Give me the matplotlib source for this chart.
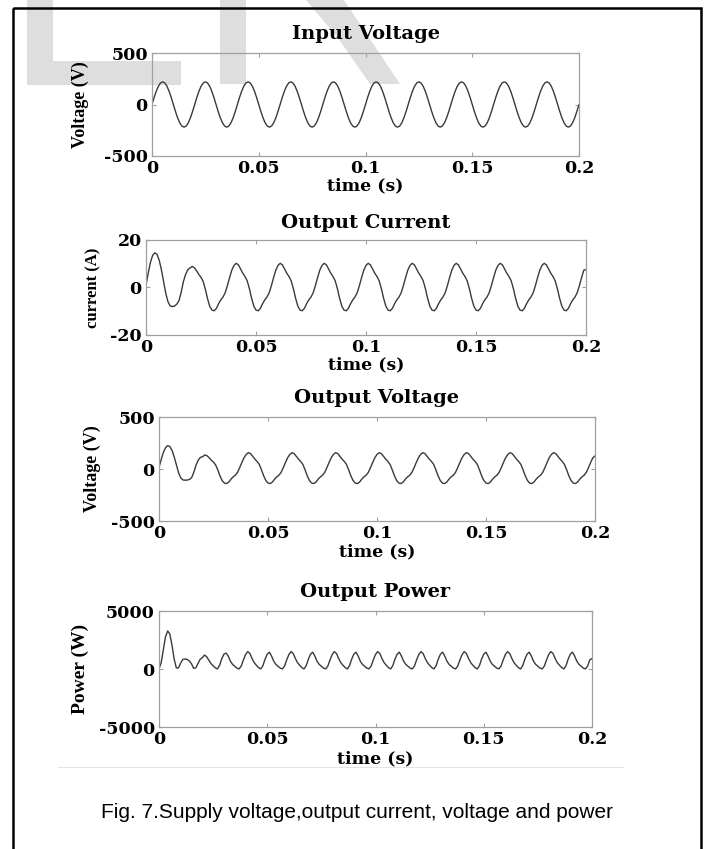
import numpy as np
import matplotlib
matplotlib.use('Agg')
import matplotlib.pyplot as plt
from matplotlib.patches import Polygon, Rectangle
from matplotlib.lines import Line2D
from matplotlib.transforms import Affine2D

W, H = 709, 849

# sampling grid of the scope traces (1 ms)
time = np.linspace(0, 0.2, 201)
xticks = [0, 0.05, 0.1, 0.15, 0.2]
xticklabels = ['0', '0.05', '0.1', '0.15', '0.2']

input_voltage = [
    0, 68, 129, 178, 209, 220, 209, 178, 129, 68, 0, -68, -129, -178, -209, -220, -209, -178, -129, -68,
    0, 68, 129, 178, 209, 220, 209, 178, 129, 68, 0, -68, -129, -178, -209, -220, -209, -178, -129, -68,
    0, 68, 129, 178, 209, 220, 209, 178, 129, 68, 0, -68, -129, -178, -209, -220, -209, -178, -129, -68,
    0, 68, 129, 178, 209, 220, 209, 178, 129, 68, 0, -68, -129, -178, -209, -220, -209, -178, -129, -68,
    0, 68, 129, 178, 209, 220, 209, 178, 129, 68, 0, -68, -129, -178, -209, -220, -209, -178, -129, -68,
    0, 68, 129, 178, 209, 220, 209, 178, 129, 68, 0, -68, -129, -178, -209, -220, -209, -178, -129, -68,
    0, 68, 129, 178, 209, 220, 209, 178, 129, 68, 0, -68, -129, -178, -209, -220, -209, -178, -129, -68,
    0, 68, 129, 178, 209, 220, 209, 178, 129, 68, 0, -68, -129, -178, -209, -220, -209, -178, -129, -68,
    0, 68, 129, 178, 209, 220, 209, 178, 129, 68, 0, -68, -129, -178, -209, -220, -209, -178, -129, -68,
    0, 68, 129, 178, 209, 220, 209, 178, 129, 68, 0, -68, -129, -178, -209, -220, -209, -178, -129, -68,
    0]

output_current = [
    1.0, 6.0, 10.5, 13.5, 14.6, 14.0, 11.5, 7.5, 2.5, -2.5, -6.0, -7.8, -8.0, -7.8, -7.0, -5.5, -2.0, 2.5, 5.5, 7.5,
    8.2, 8.9, 8.3, 7.0, 5.5, 4.3, 2.5, -0.8, -4.8, -8.0, -9.5, -9.8, -8.8, -6.8, -5.2, -4.0, -2.2, 0.8, 4.2, 7.3,
    9.3, 10.2, 9.5, 7.8, 6.0, 4.6, 2.8, -0.5, -4.5, -7.8, -9.5, -9.8, -8.8, -6.8, -5.2, -4.0, -2.2, 0.8, 4.2, 7.3,
    9.3, 10.2, 9.5, 7.8, 6.0, 4.6, 2.8, -0.5, -4.5, -7.8, -9.5, -9.8, -8.8, -6.8, -5.2, -4.0, -2.2, 0.8, 4.2, 7.3,
    9.3, 10.2, 9.5, 7.8, 6.0, 4.6, 2.8, -0.5, -4.5, -7.8, -9.5, -9.8, -8.8, -6.8, -5.2, -4.0, -2.2, 0.8, 4.2, 7.3,
    9.3, 10.2, 9.5, 7.8, 6.0, 4.6, 2.8, -0.5, -4.5, -7.8, -9.5, -9.8, -8.8, -6.8, -5.2, -4.0, -2.2, 0.8, 4.2, 7.3,
    9.3, 10.2, 9.5, 7.8, 6.0, 4.6, 2.8, -0.5, -4.5, -7.8, -9.5, -9.8, -8.8, -6.8, -5.2, -4.0, -2.2, 0.8, 4.2, 7.3,
    9.3, 10.2, 9.5, 7.8, 6.0, 4.6, 2.8, -0.5, -4.5, -7.8, -9.5, -9.8, -8.8, -6.8, -5.2, -4.0, -2.2, 0.8, 4.2, 7.3,
    9.3, 10.2, 9.5, 7.8, 6.0, 4.6, 2.8, -0.5, -4.5, -7.8, -9.5, -9.8, -8.8, -6.8, -5.2, -4.0, -2.2, 0.8, 4.2, 7.3,
    9.3, 10.2, 9.5, 7.8, 6.0, 4.6, 2.8, -0.5, -4.5, -7.8, -9.5, -9.8, -8.8, -6.8, -5.2, -4.0, -2.2, 0.8, 4.2, 7.3,
    7.5]

output_voltage = [
    15, 90, 160, 205, 225, 215, 178, 115, 38, -38, -85, -105, -108, -106, -100, -82, -30, 38, 85, 112,
    118, 135, 128, 108, 85, 66, 38, -10, -68, -112, -135, -140, -126, -98, -76, -60, -33, 12, 62, 108,
    140, 157, 148, 122, 95, 72, 44, -8, -65, -110, -135, -140, -126, -98, -76, -60, -33, 12, 62, 108,
    140, 157, 148, 122, 95, 72, 44, -8, -65, -110, -135, -140, -126, -98, -76, -60, -33, 12, 62, 108,
    140, 157, 148, 122, 95, 72, 44, -8, -65, -110, -135, -140, -126, -98, -76, -60, -33, 12, 62, 108,
    140, 157, 148, 122, 95, 72, 44, -8, -65, -110, -135, -140, -126, -98, -76, -60, -33, 12, 62, 108,
    140, 157, 148, 122, 95, 72, 44, -8, -65, -110, -135, -140, -126, -98, -76, -60, -33, 12, 62, 108,
    140, 157, 148, 122, 95, 72, 44, -8, -65, -110, -135, -140, -126, -98, -76, -60, -33, 12, 62, 108,
    140, 157, 148, 122, 95, 72, 44, -8, -65, -110, -135, -140, -126, -98, -76, -60, -33, 12, 62, 108,
    140, 157, 148, 122, 95, 72, 44, -8, -65, -110, -135, -140, -126, -98, -76, -60, -33, 12, 62, 108,
    125]

output_power = [
    15, 540, 1680, 2770, 3280, 3010, 2050, 860, 95, 95, 510, 820, 865, 825, 700, 450, 60, 95, 470, 840,
    970, 1200, 1060, 756, 468, 284, 95, 8, 326, 896, 1282, 1372, 1109, 666, 395, 240, 73, 10, 260, 790,
    1250, 1500, 1330, 900, 540, 320, 120, 5, 290, 850, 1280, 1450, 1110, 670, 395, 240, 75, 10, 260, 790,
    1250, 1500, 1330, 900, 540, 320, 120, 5, 290, 850, 1280, 1450, 1110, 670, 395, 240, 75, 10, 260, 790,
    1250, 1500, 1330, 900, 540, 320, 120, 5, 290, 850, 1280, 1450, 1110, 670, 395, 240, 75, 10, 260, 790,
    1250, 1500, 1330, 900, 540, 320, 120, 5, 290, 850, 1280, 1450, 1110, 670, 395, 240, 75, 10, 260, 790,
    1250, 1500, 1330, 900, 540, 320, 120, 5, 290, 850, 1280, 1450, 1110, 670, 395, 240, 75, 10, 260, 790,
    1250, 1500, 1330, 900, 540, 320, 120, 5, 290, 850, 1280, 1450, 1110, 670, 395, 240, 75, 10, 260, 790,
    1250, 1500, 1330, 900, 540, 320, 120, 5, 290, 850, 1280, 1450, 1110, 670, 395, 240, 75, 10, 260, 790,
    1250, 1500, 1330, 900, 540, 320, 120, 5, 290, 850, 1280, 1450, 1110, 670, 395, 240, 75, 10, 260, 790,
    900]

titles = ['Input Voltage', 'Output Current', 'Output Voltage', 'Output Power']
ylabels = ['Voltage (V)', 'current (A)', 'Voltage (V)', 'Power (W)']
ylimits = [500, 20, 500, 5000]
yticklabels = [['-500', '0', '500'], ['-20', '0', '20'],
               ['-500', '0', '500'], ['-5000', '0', '5000']]
caption = 'Fig. 7.Supply voltage,output current, voltage and power'

series = [input_voltage, output_current, output_voltage, output_power]

fig = plt.figure(figsize=(W / 100, H / 100), dpi=100)
# pixel coordinates (origin top-left) -> figure
px = Affine2D().scale(1 / W, -1 / H).translate(0, 1) + fig.transFigure

# faint watermark behind the plots
wm = '#dedede'
for pts in [[(27, 0), (53, 0), (53, 61), (181, 61), (181, 85), (27, 85)],
            [(220, 0), (246, 0), (246, 84), (220, 84)],
            [(306, 0), (344, 0), (400, 84), (370, 84), (338, 38)]]:
    fig.patches.append(Polygon(pts, closed=True, facecolor=wm, edgecolor='none',
                               transform=px, zorder=-5))

# pixel boxes of the four axes: left, top, right, bottom
boxes = [(152, 53, 579, 156), (146, 240, 586, 335),
         (159, 417, 595, 521), (159, 611, 592, 727)]
ylabel_right = [89, 101, 101, 89]
ylabel_size = [13, 12, 13, 14]
title_pad = [10, 8.5, 10, 10]
xlabel_top = [177, 356, 543, 750]

serif_bold = dict(family='DejaVu Serif', weight='bold')

for i in range(4):
    l, t, r, b = boxes[i]
    ax = fig.add_axes([l / W, 1 - b / H, (r - l) / W, (b - t) / H])
    ax.set_facecolor('none')
    ax.plot(time, series[i], color='#3a3a3a', lw=1.0)
    ax.set_xlim(0, 0.2)
    ax.set_ylim(-ylimits[i], ylimits[i])
    ax.set_xticks(xticks)
    ax.set_xticklabels(xticklabels, fontsize=12.5, **serif_bold)
    ax.set_yticks([-ylimits[i], 0, ylimits[i]])
    ax.set_yticklabels(yticklabels[i], fontsize=12.5, **serif_bold)
    for s in ax.spines.values():
        s.set_color('#a0a0a0')
        s.set_linewidth(0.9)
    ax.tick_params(direction='in', top=True, right=True, length=3,
                   color='#a0a0a0', width=0.8)
    ax.tick_params(axis='x', pad=3)
    ax.tick_params(axis='y', pad=3)
    ax.set_title(titles[i], fontsize=14, pad=title_pad[i], **serif_bold)
    ax.set_xlabel('time (s)', fontsize=12.5, **serif_bold)
    ax.xaxis.set_label_coords(0.5, -(xlabel_top[i] - b) / (b - t))
    ax.set_ylabel(ylabels[i], fontsize=ylabel_size[i], family='Liberation Serif',
                  weight='bold')
    ax.yaxis.set_label_coords((ylabel_right[i] - l) / (r - l), 0.5)

# light rule under the figure image
fig.lines.append(Line2D([58, 623], [767, 767], color='#e4e4e4', lw=0.8, transform=px))

fig.text(357 / W, 1 - 818 / H, caption, ha='center', va='baseline',
         fontsize=15, family='Liberation Sans')

# page frame
fig.patches.append(Rectangle((13, 8), 688, 860, fill=False, edgecolor='black',
                             lw=1.8, transform=px, zorder=10))

fig.savefig('out.png', dpi=100)
